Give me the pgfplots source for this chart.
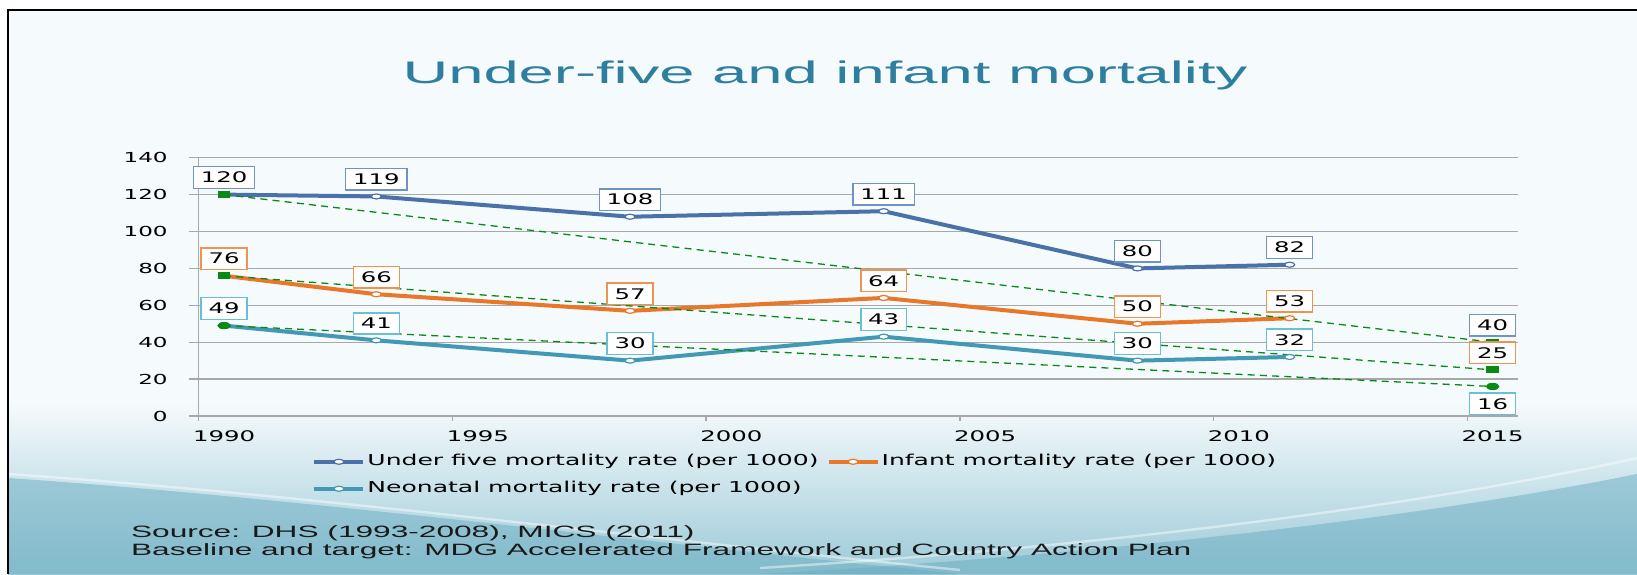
\documentclass[border=0pt]{standalone}
\usepackage{pgfplots}
\pgfplotsset{compat=1.18}
\usepackage{pgfplotstable}
\usepackage{fontspec}
\setmainfont{Liberation Sans}[FakeStretch=1.93]
\newfontfamily\titlefont{Liberation Sans}[FakeStretch=2.03]
\newfontfamily\dv{DejaVu Sans}[FakeStretch=1.67]

\definecolor{u5}{HTML}{4A72A8}
\definecolor{im}{HTML}{E8772A}
\definecolor{nm}{HTML}{4399B5}
\definecolor{u5b}{HTML}{6F93C6}
\definecolor{imb}{HTML}{EE9350}
\definecolor{nmb}{HTML}{6BBFD4}
\definecolor{tg}{HTML}{0A8A14}
\definecolor{titlec}{HTML}{2E7EA0}
\definecolor{bgc}{HTML}{F5FAFC}
\definecolor{teal1}{HTML}{6AADC1}
\definecolor{teal2}{HTML}{9CCAD8}
\definecolor{gridc}{HTML}{A8A8A8}

\pgfplotstableread{
x y
1990 120
1993 119
1998 108
2003 111
2008 80
2011 82
}\uf
\pgfplotstableread{
x y
1990 76
1993 66
1998 57
2003 64
2008 50
2011 53
}\inf
\pgfplotstableread{
x y
1990 49
1993 41
1998 30
2003 43
2008 30
2011 32
}\neo
\pgfplotstableread{
x y
1990 120
2015 40
}\uft
\pgfplotstableread{
x y
1990 76
2015 25
}\inft
\pgfplotstableread{
x y
1990 49
2015 16
}\neot

\begin{document}
\begin{tikzpicture}
\path[use as bounding box] (0,0) rectangle (818.5pt,287pt);
\fill[white] (0,0) rectangle (818.5pt,287pt);
\fill[bgc] (4pt,0) rectangle (818.5pt,282pt);
\shade[top color=bgc, bottom color=teal2] (4pt,0) rectangle (818.5pt,85pt);
\fill[teal1, opacity=0.5] (4pt,0) -- (4pt,48pt) .. controls (150pt,38pt) and (320pt,16pt) .. (480pt,0pt) -- cycle;
\fill[teal1, opacity=0.5] (818.5pt,0) -- (818.5pt,50pt) .. controls (720pt,30pt) and (560pt,10pt) .. (380pt,0pt) -- cycle;
\draw[white, opacity=0.45, line width=1.2pt] (4pt,50pt) .. controls (150pt,40pt) and (320pt,18pt) .. (480pt,2pt);
\draw[white, opacity=0.45, line width=1.2pt] (818.5pt,58pt) .. controls (720pt,36pt) and (560pt,14pt) .. (380pt,3pt);
\draw[black, line width=1pt] (4pt,0) -- (4pt,282pt) -- (818.5pt,282pt);

\node[anchor=base, font=\titlefont\fontsize{15.6}{18}\selectfont, text=titlec] at (412.5pt,245.3pt) {Under-five and infant mortality};

\begin{axis}[
  at={(99.35pt,79pt)}, anchor=south west,
  scale only axis, width=659.65pt, height=129.15pt,
  xmin=1989.5, xmax=2015.5, ymin=0, ymax=140,
  axis x line*=bottom, axis y line*=left,
  axis line style={-, draw=gridc, line width=0.7pt},
  tick align=outside, major tick length=2.35pt,
  tick style={draw=gridc, line width=0.7pt},
  xtick={1989.5,1994.5,1999.5,2004.5,2009.5,2014.5},
  xticklabels={,,,,,},
  extra x ticks={1990,1995,2000,2005,2010,2015},
  extra x tick labels={1990,1995,2000,2005,2010,2015},
  extra x tick style={major tick length=0pt, grid=none},
  ytick={0,20,...,140},
  extra y ticks={0,20,...,140},
  extra y tick labels={},
  extra y tick style={major tick length=5pt, grid=none},
  ymajorgrids, grid style={draw=gridc, line width=0.7pt},
  /pgf/number format/assume math mode=true,
  /pgf/number format/1000 sep={},
  xticklabel style={font=\dv\fontsize{7.3}{8}\selectfont, inner sep=0pt, anchor=north, yshift=-7pt},
  yticklabel style={font=\dv\fontsize{6.9}{8}\selectfont, inner sep=0pt, anchor=east, xshift=-13pt},
  legend columns=2,
  legend cell align=left,
  legend style={draw=none, fill=none, at={(0.0859,-0.14)}, anchor=north west,
    font=\dv\fontsize{7.5}{9}\selectfont, inner sep=0pt, row sep=4.3pt,
    nodes={inner sep=1pt},
    /tikz/every even column/.append style={column sep=3pt}},
  legend image code/.code={\draw[mark repeat=2,mark phase=2,#1] plot coordinates {(0pt,0pt) (12.25pt,0pt) (24.5pt,0pt)};},
  every node near coord/.append style={font=\dv\fontsize{7.3}{8}\selectfont, fill=white, text=black, inner xsep=3.7pt, inner ysep=2.65pt, line width=0.7pt},
]
\addplot[u5, line width=2pt, mark=*, mark size=1.25pt, mark options={fill=white, draw=u5, line width=0.6pt, xscale=2}] table[x=x,y=y] {\uf};
\addlegendentry{Under five mortality rate (per 1000)}
\addplot[im, line width=2pt, mark=*, mark size=1.25pt, mark options={fill=white, draw=im, line width=0.6pt, xscale=2}] table[x=x,y=y] {\inf};
\addlegendentry{Infant mortality rate (per 1000)}
\addplot[nm, line width=2pt, mark=*, mark size=1.25pt, mark options={fill=white, draw=nm, line width=0.6pt, xscale=2}] table[x=x,y=y] {\neo};
\addlegendentry{Neonatal mortality rate (per 1000)}

\addplot[forget plot, tg, line width=0.65pt, dash pattern=on 3.5pt off 2.6pt, mark=square*, mark size=1.4pt, mark options={solid, fill=tg, xscale=2}] table[x=x,y=y] {\uft};
\addplot[forget plot, tg, line width=0.65pt, dash pattern=on 3.5pt off 2.6pt, mark=square*, mark size=1.4pt, mark options={solid, fill=tg, xscale=2}] table[x=x,y=y] {\inft};
\addplot[forget plot, tg, line width=0.65pt, dash pattern=on 3.5pt off 2.6pt, mark=*, mark size=1.5pt, mark options={solid, fill=tg, xscale=2}] table[x=x,y=y] {\neot};

\addplot[forget plot, draw=none, mark=none, nodes near coords, every node near coord/.append style={draw=u5b, anchor=south, yshift=2.8pt}] table[x=x,y=y] {\uf};
\addplot[forget plot, draw=none, mark=none, nodes near coords, every node near coord/.append style={draw=imb, anchor=south, yshift=2.8pt}] table[x=x,y=y] {\inf};
\addplot[forget plot, draw=none, mark=none, nodes near coords, every node near coord/.append style={draw=nmb, anchor=south, yshift=2.8pt}] table[x=x,y=y] {\neo};
\addplot[forget plot, draw=none, mark=none, nodes near coords, every node near coord/.append style={draw=u5b, anchor=south, yshift=2.8pt}] coordinates {(2015,40)};
\addplot[forget plot, draw=none, mark=none, nodes near coords, every node near coord/.append style={draw=imb, anchor=south, yshift=2.8pt}] coordinates {(2015,25)};
\addplot[forget plot, draw=none, mark=none, nodes near coords, every node near coord/.append style={draw=nmb, anchor=north, yshift=-2.9pt}] coordinates {(2015,16)};
\end{axis}

\node[anchor=base west, font=\fontsize{8.2}{10}\selectfont, text=black!90] at (62pt,18.5pt) {Source: DHS (1993-2008), MICS (2011)};
\node[anchor=base west, font=\fontsize{8.2}{10}\selectfont, text=black!90] at (62pt,9.3pt) {Baseline and target: MDG Accelerated Framework and Country Action Plan};
\end{tikzpicture}
\end{document}
